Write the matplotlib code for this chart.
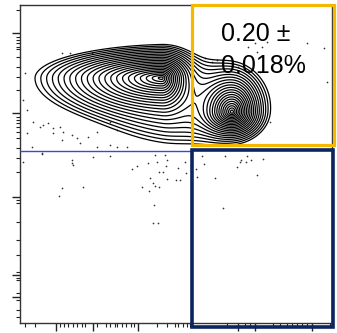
import numpy as np
import matplotlib
matplotlib.use("Agg")
import matplotlib.pyplot as plt
from matplotlib.patches import Rectangle

# ---- data (channel units) ----
# population shape description
# (centre, spread to left/right/up/down, weight)
pop_cx = [142, 212]
pop_cy = [245, 211]
pop_sxl = [28, 8.5]
pop_sxr = [8, 7.5]
pop_syu = [7, 10]
pop_syd = [10, 6.5]
pop_w = [1.0, 0.85]
# faint shared envelope joining the two populations
env_cx, env_cy, env_sx, env_sy, env_w = 165, 220, 48, 27, 0.03

# outlying events (dots)
dots_x = [5, 3, 7, 13, 20, 23, 28, 33, 40, 43, 52, 33, 42, 57, 68, 77, 97, 90, 7,
          42, 50, 72, 77, 90, 97, 107, 60, 12, 137, 147, 52, 22,
          3, 22, 52, 53, 73, 90, 112, 117, 128, 135, 145, 146, 143, 139, 130, 133,
          135, 139, 147, 156, 160, 165, 158, 166, 122, 129, 42, 39, 63, 134, 133, 138, 177,
          182, 184, 176, 205, 220, 227, 221, 226, 231, 243, 217, 237, 195, 203,
          228, 235, 242, 237, 247, 287, 304, 307, 185, 192, 197, 218, 250, 240]
dots_y = [250, 223, 213, 201, 196, 198, 200, 195, 196, 191, 188, 190, 183, 185, 186, 191, 193, 201, 190,
          270, 270, 270, 176, 178, 176, 176, 180, 176, 161, 163, 160, 170,
          161, 169, 163, 158, 166, 167, 154, 157, 160, 168, 168, 157, 151, 151, 145, 140,
          137, 136, 144, 143, 143, 161, 155, 150, 136, 132, 135, 127, 136, 118, 100, 100, 146,
          167, 159, 154, 167, 161, 167, 163, 161, 163, 164, 156, 148, 145, 115,
          276, 280, 276, 271, 281, 280, 275, 241, 265, 261, 263, 256, 201, 251]

x_ticks_major = [36, 73, 118, 218, 235, 292]
x_ticks_minor = [5, 15, 40, 44, 48, 53, 57, 62, 65, 77, 86, 90, 95, 97, 102, 106, 111, 114,
                 137, 147, 155, 158, 163, 167, 170, 207, 225, 230, 253, 260, 267, 272, 277,
                 282, 287, 310]
y_ticks_major = [290, 210, 126, 48, 26]
y_ticks_minor = [313, 286, 283, 280, 276, 274, 266, 256, 246, 233, 206, 203, 200, 196, 191,
                 185, 175, 165, 151, 123, 120, 101, 83, 68, 51, 45, 43, 30, 23, 13, 6]

gate_label = "0.20 ±\n0.018%"

# ---- figure ----
fig = plt.figure(figsize=(3.37, 3.33), dpi=100)
ax = fig.add_axes([20 / 337, 10 / 333, 312 / 337, 318 / 333])
ax.set_xlim(0, 312)
ax.set_ylim(0, 318)

gx = np.linspace(0, 312, 600)
gy = np.linspace(0, 318, 600)
X, Y = np.meshgrid(gx, gy)
Z = env_w * np.exp(-0.5 * (((X - env_cx) / env_sx) ** 2 + ((Y - env_cy) / env_sy) ** 2))
for cx, cy, sxl, sxr, syu, syd, w in zip(pop_cx, pop_cy, pop_sxl, pop_sxr,
                                         pop_syu, pop_syd, pop_w):
    sx = np.where(X < cx, sxl, sxr)
    sy = np.where(Y > cy, syu, syd)
    r = np.sqrt(((X - cx) / sx) ** 2 + ((Y - cy) / sy) ** 2)
    Z += w * np.exp(-r)
levels = Z.max() * np.geomspace(0.011, 0.9, 22)
ax.contour(X, Y, Z, levels=levels, colors="black", linewidths=0.9)

ax.scatter(dots_x, dots_y, s=1.5, c="#333333", linewidths=0)

# gate line and gates
ax.plot([0, 172], [172, 172], color="#3a48d8", lw=1.0, zorder=3)
ax.add_patch(Rectangle((172, 178), 142, 140, fill=False, ec="#F5B800", lw=2.3,
                       clip_on=False, zorder=4))
ax.add_patch(Rectangle((172, -4), 141, 177, fill=False, ec="#0B2560", lw=2.6,
                       clip_on=False, zorder=4))

ax.text(201, 250, gate_label, fontsize=18, family="Liberation Sans", ha="left",
        va="baseline", linespacing=1.4, color="black", zorder=5)

# ticks
ax.set_xticks(x_ticks_major)
ax.set_xticks(x_ticks_minor, minor=True)
ax.set_yticks(y_ticks_major)
ax.set_yticks(y_ticks_minor, minor=True)
ax.set_xticklabels([])
ax.set_yticklabels([])
ax.tick_params(which="major", length=6, width=1.0, color="#222222", direction="out")
ax.tick_params(which="minor", length=3, width=0.8, color="#222222", direction="out")
for s in ax.spines.values():
    s.set_color("#333333")
    s.set_linewidth(1.0)

fig.savefig("out.png", dpi=100)
